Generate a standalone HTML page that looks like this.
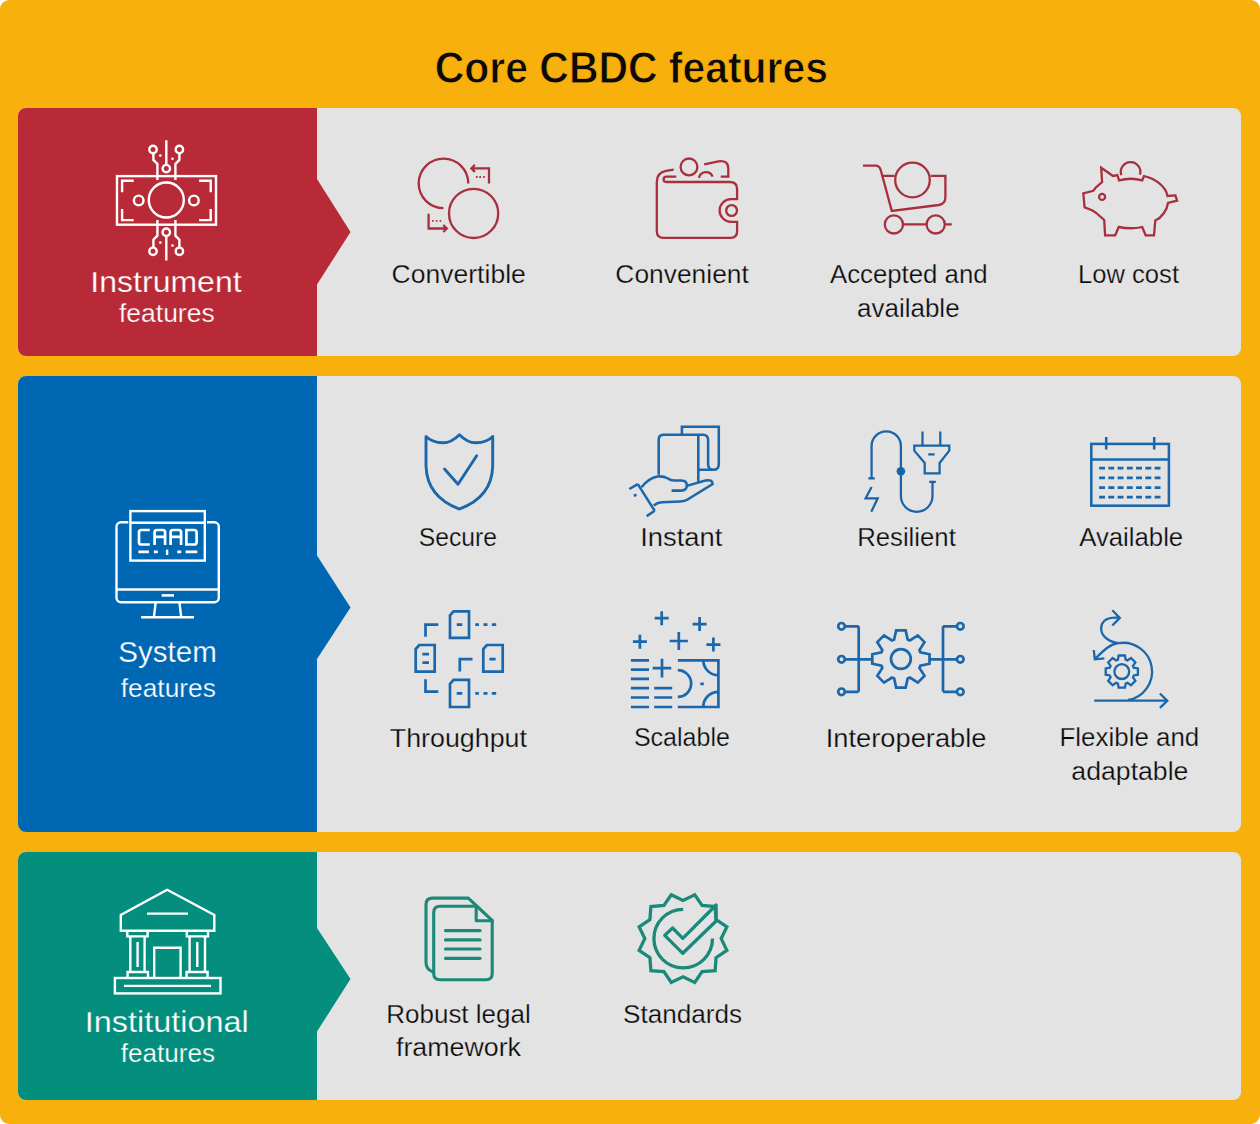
<!DOCTYPE html><html><head><meta charset="utf-8"><style>html,body{margin:0;padding:0;background:#fff;width:1260px;height:1124px;overflow:hidden}svg{display:block;font-family:"Liberation Sans",sans-serif}</style></head><body><svg width="1260" height="1124" viewBox="0 0 1260 1124"><rect x="0" y="0" width="1260" height="1124" rx="9" fill="#F8B00D"/><rect x="18" y="108" width="1223" height="248" rx="8" fill="#E3E3E3"/><path d="M26,108 H317 V179 L350.5,232 L317,284.5 V356 H26 A8,8 0 0 1 18,348 V116 A8,8 0 0 1 26,108 Z" fill="#B82A37"/><rect x="18" y="376" width="1223" height="456" rx="8" fill="#E3E3E3"/><path d="M26,376 H317 V555.5 L350.5,607.5 L317,659 V832 H26 A8,8 0 0 1 18,824 V384 A8,8 0 0 1 26,376 Z" fill="#0067B2"/><rect x="18" y="852" width="1223" height="248" rx="8" fill="#E3E3E3"/><path d="M26,852 H317 V928 L350.5,979 L317,1031.5 V1100 H26 A8,8 0 0 1 18,1092 V860 A8,8 0 0 1 26,852 Z" fill="#038E7D"/><text x="631.40" y="82.6" font-size="44.3" fill="#0a0a0a" stroke="#F8B00D" stroke-width="0.9" text-anchor="middle" font-weight="bold" textLength="393.23" lengthAdjust="spacingAndGlyphs">Core CBDC features</text><text x="166.00" y="292.2" font-size="29.3" fill="#fff" stroke="#B82A37" stroke-width="0.25" text-anchor="middle" font-weight="normal" textLength="151.27" lengthAdjust="spacingAndGlyphs">Instrument</text><text x="166.80" y="322.3" font-size="25.2" fill="#fff" stroke="#B82A37" stroke-width="0.25" text-anchor="middle" font-weight="normal" textLength="95.63" lengthAdjust="spacingAndGlyphs">features</text><text x="167.60" y="662.4" font-size="29.3" fill="#fff" stroke="#0067B2" stroke-width="0.25" text-anchor="middle" font-weight="normal" textLength="98.56" lengthAdjust="spacingAndGlyphs">System</text><text x="168.30" y="696.6" font-size="25.2" fill="#fff" stroke="#0067B2" stroke-width="0.25" text-anchor="middle" font-weight="normal" textLength="95.04" lengthAdjust="spacingAndGlyphs">features</text><text x="166.70" y="1031.7" font-size="29.3" fill="#fff" stroke="#038E7D" stroke-width="0.25" text-anchor="middle" font-weight="normal" textLength="163.96" lengthAdjust="spacingAndGlyphs">Institutional</text><text x="167.90" y="1061.6" font-size="25.2" fill="#fff" stroke="#038E7D" stroke-width="0.25" text-anchor="middle" font-weight="normal" textLength="94.22" lengthAdjust="spacingAndGlyphs">features</text><text x="458.70" y="283.4" font-size="25.5" fill="#0a0a0a" stroke="#E3E3E3" stroke-width="0.25" text-anchor="middle" font-weight="normal" textLength="134.25" lengthAdjust="spacingAndGlyphs">Convertible</text><text x="682.10" y="283.2" font-size="25.5" fill="#0a0a0a" stroke="#E3E3E3" stroke-width="0.25" text-anchor="middle" font-weight="normal" textLength="133.43" lengthAdjust="spacingAndGlyphs">Convenient</text><text x="908.80" y="283.2" font-size="25.5" fill="#0a0a0a" stroke="#E3E3E3" stroke-width="0.25" text-anchor="middle" font-weight="normal" textLength="157.62" lengthAdjust="spacingAndGlyphs">Accepted and</text><text x="908.30" y="316.7" font-size="25.5" fill="#0a0a0a" stroke="#E3E3E3" stroke-width="0.25" text-anchor="middle" font-weight="normal" textLength="102.64" lengthAdjust="spacingAndGlyphs">available</text><text x="1128.50" y="283.2" font-size="25.5" fill="#0a0a0a" stroke="#E3E3E3" stroke-width="0.25" text-anchor="middle" font-weight="normal" textLength="101.04" lengthAdjust="spacingAndGlyphs">Low cost</text><text x="457.90" y="545.6" font-size="25.5" fill="#0a0a0a" stroke="#E3E3E3" stroke-width="0.25" text-anchor="middle" font-weight="normal" textLength="78.30" lengthAdjust="spacingAndGlyphs">Secure</text><text x="681.30" y="545.6" font-size="25.5" fill="#0a0a0a" stroke="#E3E3E3" stroke-width="0.25" text-anchor="middle" font-weight="normal" textLength="82.29" lengthAdjust="spacingAndGlyphs">Instant</text><text x="906.50" y="545.8" font-size="25.5" fill="#0a0a0a" stroke="#E3E3E3" stroke-width="0.25" text-anchor="middle" font-weight="normal" textLength="98.67" lengthAdjust="spacingAndGlyphs">Resilient</text><text x="1131.20" y="545.8" font-size="25.5" fill="#0a0a0a" stroke="#E3E3E3" stroke-width="0.25" text-anchor="middle" font-weight="normal" textLength="104.03" lengthAdjust="spacingAndGlyphs">Available</text><text x="458.40" y="746.6" font-size="25.5" fill="#0a0a0a" stroke="#E3E3E3" stroke-width="0.25" text-anchor="middle" font-weight="normal" textLength="137.21" lengthAdjust="spacingAndGlyphs">Throughput</text><text x="681.90" y="746.3" font-size="25.5" fill="#0a0a0a" stroke="#E3E3E3" stroke-width="0.25" text-anchor="middle" font-weight="normal" textLength="95.89" lengthAdjust="spacingAndGlyphs">Scalable</text><text x="906.10" y="746.6" font-size="25.5" fill="#0a0a0a" stroke="#E3E3E3" stroke-width="0.25" text-anchor="middle" font-weight="normal" textLength="160.70" lengthAdjust="spacingAndGlyphs">Interoperable</text><text x="1129.40" y="746.1" font-size="25.5" fill="#0a0a0a" stroke="#E3E3E3" stroke-width="0.25" text-anchor="middle" font-weight="normal" textLength="139.71" lengthAdjust="spacingAndGlyphs">Flexible and</text><text x="1129.90" y="779.8" font-size="25.5" fill="#0a0a0a" stroke="#E3E3E3" stroke-width="0.25" text-anchor="middle" font-weight="normal" textLength="117.07" lengthAdjust="spacingAndGlyphs">adaptable</text><text x="458.50" y="1022.8" font-size="25.5" fill="#0a0a0a" stroke="#E3E3E3" stroke-width="0.25" text-anchor="middle" font-weight="normal" textLength="144.33" lengthAdjust="spacingAndGlyphs">Robust legal</text><text x="458.50" y="1055.8" font-size="25.5" fill="#0a0a0a" stroke="#E3E3E3" stroke-width="0.25" text-anchor="middle" font-weight="normal" textLength="125.00" lengthAdjust="spacingAndGlyphs">framework</text><text x="682.50" y="1022.8" font-size="25.5" fill="#0a0a0a" stroke="#E3E3E3" stroke-width="0.25" text-anchor="middle" font-weight="normal" textLength="119.06" lengthAdjust="spacingAndGlyphs">Standards</text><g fill="none" stroke="#fff" stroke-width="2.4" stroke-linecap="butt" stroke-linejoin="miter">
<rect x="117" y="176.1" width="99" height="48.6"/>
<path d="M133.7,180.7 H122.1 V192.3 M199.1,180.7 H210.7 V192.3 M122.1,209 V220.1 H133.7 M210.7,209 V220.1 H199.1"/>
<circle cx="166.3" cy="200" r="17.5"/>
<circle cx="138.7" cy="200.4" r="4.8"/><circle cx="193.9" cy="200.4" r="4.8"/>
<path d="M166.3,140.2 V164.8 M157.4,180.1 V164 L153.4,159.9 V153.3 M175.4,180.1 V164 L179.4,159.9 V153.3"/>
<circle cx="166.3" cy="168.6" r="3.7"/><circle cx="153" cy="149.5" r="3.7"/><circle cx="179.4" cy="149.5" r="3.7"/>
<path d="M166.3,236.3 V260.5 M157.4,220.1 V235.7 L153.4,239.7 V247.6 M175.4,220.1 V235.7 L179.4,239.7 V247.6"/>
<circle cx="166.3" cy="232.2" r="3.7"/><circle cx="153" cy="251.3" r="3.7"/><circle cx="179.4" cy="251.3" r="3.7"/>
<circle cx="160.3" cy="155.6" r="1.3" fill="#fff" stroke="none"/><circle cx="172.5" cy="158.7" r="1.3" fill="#fff" stroke="none"/>
<circle cx="160.3" cy="242.6" r="1.3" fill="#fff" stroke="none"/><circle cx="172.5" cy="245.5" r="1.3" fill="#fff" stroke="none"/>
</g><g fill="none" stroke="#fff" stroke-width="2.4" stroke-linecap="butt" stroke-linejoin="miter">
<path d="M128.3,522.2 H121 A4.5,4.5 0 0 0 116.5,526.7 V597.8 A4.5,4.5 0 0 0 121,602.3 H214.3 A4.5,4.5 0 0 0 218.8,597.8 V526.7 A4.5,4.5 0 0 0 214.3,522.2 H207"/>
<path d="M116.5,589.5 H218.8"/>
<path d="M161.7,595.4 H174" stroke-width="2.6"/>
<path d="M155.6,602.9 L153.9,617 M179.5,602.9 L181.2,617 M141.1,617.3 H194"/>
<rect x="130.4" y="511.1" width="74.4" height="49.5"/>
<path d="M130.4,522.8 H204.8"/>
<g stroke-width="2.7">
<path d="M149.8,530 H141.3 Q139,530 139,532.3 V542.2 Q139,544.5 141.3,544.5 H149.8"/>
<path d="M154.6,545 V532.3 Q154.6,530 156.9,530 H162.8 Q165.1,530 165.1,532.3 V545 M154.6,536.8 H165.1"/>
<path d="M170.6,545 V532.3 Q170.6,530 172.9,530 H178.8 Q181.1,530 181.1,532.3 V545 M170.6,536.8 H181.1"/>
<path d="M186.4,530 H194 Q196.6,530 196.6,532.6 V541.9 Q196.6,544.5 194,544.5 H186.4 Z"/>
</g>
<path d="M138.4,551.9 H148.9 M153.9,551.9 H157.8 M177.3,551.9 H181.2 M185.6,551.9 H197.3" stroke-width="2.8"/>
<path d="M167.1,549.6 V555" stroke-width="2.4"/>
</g><g fill="none" stroke="#fff" stroke-width="2.4" stroke-linecap="butt" stroke-linejoin="miter">
<path d="M167.2,889.8 L120.8,915 V930.7 H214.3 V915 Z"/>
<path d="M147,913.6 H188"/>
<path d="M127.3,930.7 V936.4 H147.6 V930.7 M186.8,930.7 V936.4 H208 V930.7"/>
<path d="M130.3,936.4 V972 M144.6,936.4 V972 M189.6,936.4 V972 M205,936.4 V972"/>
<path d="M137.6,942 V967 M197.3,942 V967"/>
<path d="M127.6,978 V972 H148 V978 M186.6,978 V972 H207.6 V978"/>
<path d="M154.2,978 V947.8 H180.6 V978"/>
<rect x="114.9" y="978" width="105.6" height="15.4"/>
<path d="M124,985.9 H211"/>
</g><g fill="none" stroke="#A82F3D" stroke-width="2.3" stroke-linecap="butt" stroke-linejoin="miter">
<path d="M468.3,183.4 A24.8,24.8 0 1 0 443.4,208.2"/>
<circle cx="473.6" cy="213.4" r="24.6"/>
<path d="M489,183.4 V168.4 H471.4 M474.9,164.9 L471.4,168.4 L474.9,171.9"/>
<path d="M428.6,213.8 V228.5 H446.8 M443.3,225 L446.8,228.5 L443.3,232"/>
<path d="M476,177 h1.6 M479.4,177 h1.6 M483.2,177 h1.6 M432,220.8 h1.6 M435.8,220.8 h1.6 M439.6,220.8 h1.6" stroke-width="1.8"/>
</g><g fill="none" stroke="#A82F3D" stroke-width="2.3" stroke-linecap="butt" stroke-linejoin="miter">
<path d="M673.7,169.6 L666,170.8 Q656.8,172.5 656.8,182 V231 Q656.8,237.9 663.6,237.9 H730.4 Q737.1,237.9 737.1,231 V221.9 H731 A11.4,11.4 0 0 1 731,199.1 H737.1 V189 Q737.1,182 729.5,182 H666.3 A2.7,2.7 0 0 1 666.3,176.6 H676.3"/>
<circle cx="731.6" cy="210.5" r="5.4"/>
<circle cx="689" cy="166.9" r="8.4"/>
<path d="M699,177.9 A7.1,7.1 0 0 1 712.6,176.6"/>
<path d="M704.2,164.4 L718.5,161.3 Q728.3,159.8 728.3,168.6 V176.6 H720.7"/>
</g><g fill="none" stroke="#A82F3D" stroke-width="2.3" stroke-linecap="butt" stroke-linejoin="miter">
<path d="M863,165.6 H875.3 Q879.8,165.6 880.8,170.3 L891.8,210.9 L938.7,205 Q945.4,204 945.4,197 V175.8 H930.7 M894.7,175.8 H882.9"/>
<circle cx="912.5" cy="180" r="17.3"/>
<circle cx="893.9" cy="224.4" r="9.1"/><circle cx="935.7" cy="224.4" r="9.1"/>
<path d="M903,224.4 H926.6 M944.8,224.4 H951.8"/>
</g><g fill="none" stroke="#A82F3D" stroke-width="2.3" stroke-linecap="butt" stroke-linejoin="miter">
<path d="M1101.2,167.7 L1113,176 L1117.3,175.1 L1119.1,180.3 Q1130.9,177.2 1142.2,180.3 L1144,176 C1155,178.5 1165.5,186 1167.5,196 L1175.4,195.4 L1177.1,200.6 L1168,203 C1167,210 1162,217.5 1155.3,220.5 L1154,235.3 H1145.7 L1142.2,227 Q1130.9,229.5 1118.7,227 L1115.2,235.3 H1105.1 L1104.2,220 L1096.8,213.5 Q1094,210.8 1084.6,207.4 L1083.3,193.4 L1093.3,190.8 L1096,187.3 L1102.1,182.1 Z"/>
<circle cx="1102.1" cy="196.9" r="3"/>
<path d="M1121.3,175.1 A9.8,9.8 0 1 1 1140,174.6"/>
</g><g fill="none" stroke="#1A67AC" stroke-width="2.9" stroke-linecap="round" stroke-linejoin="round">
<path d="M459.4,434.7 Q451,443 442.9,442.8 Q432,442.5 426,436.5 V466 Q427,497 459.4,509 Q492,497 492.7,466 V436.5 Q487,442.5 476,442.8 Q467.8,443 459.4,434.7 Z"/>
<path d="M444.5,469 L458,484.2 L476.7,455.8"/></g><g fill="none" stroke="#1A67AC" stroke-width="2.55" stroke-linecap="butt" stroke-linejoin="miter">
<path d="M681.9,434.6 V426.7 H718.8 V464 Q718.8,469.8 713.4,469.8 Q708.1,469.8 708.1,464 V440 Q708.1,434.7 703,434.7 H663.5 Q658.7,434.7 658.7,439.5 V474.7"/>
<path d="M698.3,435.6 V482.3 M698.3,469.8 H713.4"/>
<path d="M641.4,487.2 Q649,478 657.4,476.5 Q663,475.8 668,478.5 Q670.5,480.5 674,480.5 H681.4 Q686.8,480.5 686.8,485.5 Q686.8,490.6 681,490.6 H671.6"/>
<path d="M686.8,485.9 L705.4,480.5 Q712.6,479 712.6,484.1 L687.6,499.5 Q685,501.4 680,501.4 L661.8,502.3 Q657,502.8 653.8,505.4"/>
<path d="M637.8,484.1 L654.7,510.8 M629.3,489 L637.8,484.1 M646.7,516.1 L654.7,510.8 M633.8,495.8 L636.5,494.8"/>
</g><g fill="none" stroke="#1A63A6" stroke-width="2.25" stroke-linecap="butt" stroke-linejoin="miter">
<path d="M871.6,478.3 V446 A14.65,14.65 0 0 1 900.9,446 V496 A15.8,15.8 0 0 0 932.5,496 V481.9"/>
<path d="M868.4,478.3 H874.8 M929.2,481.9 H935.8"/>
<path d="M871.6,486.9 L865.6,498.3 H877.7 L871.3,511.8"/>
<path d="M922.5,431.4 V445.6 M940.3,431.4 V445.6"/>
<path d="M914.3,445.6 H949.3 V450.6 L939.6,463 V473.3 H924.7 V463 L914.3,450.6 Z"/>
<path d="M928.2,454.4 H934.6"/>
</g><circle cx="900.9" cy="471.2" r="4.3" fill="#1A63A6"/><g fill="none" stroke="#1A67AC" stroke-width="2.55" stroke-linecap="butt" stroke-linejoin="miter"><rect x="1091.3" y="443.9" width="77.6" height="61.8"/><path d="M1091.3,459.4 H1168.9 M1106.2,437 V449.6 M1154.2,437 V449.6"/><path d="M1099.10,468.1 h5.9 M1108.35,468.1 h5.9 M1117.60,468.1 h5.9 M1126.85,468.1 h5.9 M1136.10,468.1 h5.9 M1145.35,468.1 h5.9 M1154.60,468.1 h5.9 M1099.10,477.9 h5.9 M1108.35,477.9 h5.9 M1117.60,477.9 h5.9 M1126.85,477.9 h5.9 M1136.10,477.9 h5.9 M1145.35,477.9 h5.9 M1154.60,477.9 h5.9 M1099.10,487.6 h5.9 M1108.35,487.6 h5.9 M1117.60,487.6 h5.9 M1126.85,487.6 h5.9 M1136.10,487.6 h5.9 M1145.35,487.6 h5.9 M1154.60,487.6 h5.9 M1099.10,497.1 h5.9 M1108.35,497.1 h5.9 M1117.60,497.1 h5.9 M1126.85,497.1 h5.9 M1136.10,497.1 h5.9 M1145.35,497.1 h5.9 M1154.60,497.1 h5.9 " stroke-width="2.8"/></g><g fill="none" stroke="#1A67AC" stroke-width="2.7" stroke-linecap="butt" stroke-linejoin="miter"><path d="M450,615.3 L453.6,611.3 H469 V637.9 H450 Z M415.7,649 L419.3,645 H434.7 V671.6 H415.7 Z M483.3,649 L486.90000000000003,645 H502.7 V671.6 H483.3 Z M450,683.8 L453.6,679.8 H469 V707 H450 Z "/></g><g fill="none" stroke="#1A67AC" stroke-width="2.7" stroke-linecap="butt" stroke-linejoin="miter"><path d="M456.7,624.6 H462.3 M422.4,654.2 H429 M422.4,662.6 H429 M489.4,659.2 H495.6 M456.7,693.3 H462.3
M475.3,624.6 h3.6 M483.5,624.6 h4 M491.8,624.6 h4.4 M475.3,693.3 h3.6 M483.5,693.3 h4 M491.8,693.3 h4.4
M425.5,636.8 V624.6 H438.3 M459.8,671.6 V659.2 H472.5 M425.5,679.3 V691.6 H438.3"/></g><g fill="none" stroke="#1A67AC" stroke-width="2.7" stroke-linecap="butt" stroke-linejoin="miter"><path d="M654.7,618.2 H668.7 M661.7,611.2 V625.2 M692.6,624.1 H706.6 M699.6,617.1 V631.1 M632.9,641.7 H646.9 M639.9,634.7 V648.7 M669.6999999999999,641 H687.9 M678.8,631.9 V650.1 M706.4,644.6 H720.4 M713.4,637.6 V651.6 M652.7,668.1 H671.3 M662,658.8000000000001 V677.4 M630.9,660.3 H649 M630.9,669.6 H649 M630.9,678.9 H649 M630.9,688.2 H649 M630.9,697.5 H649 M630.9,707 H649 M654.2,688.2 H672.2 M654.2,697.5 H672.2 M654.2,707 H672.2 M677.8,660.3 H718.4 V707 H677.8 M677.8,670.2 A13,13 0 0 1 677.8,696.9 M703.3,660.3 A15,15 0 0 0 718.4,675.2 M703.3,707 A15,15 0 0 1 718.4,691.8 M700.3,683.8 H703.8"/></g><g fill="none" stroke="#1A67AC" stroke-width="2.7" stroke-linecap="butt" stroke-linejoin="miter"><path d="M845,626.3 H858.7 M845,659.3 H858.7 M845,691.8 H858.7 M858.7,626.3 V691.8 M858.7,659.3 H872 M930,659.3 H943 M943,626.3 V691.8 M943,626.3 H956.8 M943,659.3 H956.8 M943,691.8 H956.8 "/><circle cx="841.5" cy="626.3" r="3.3"/><circle cx="841.5" cy="659.3" r="3.3"/><circle cx="841.5" cy="691.8" r="3.3"/><circle cx="960.3" cy="626.3" r="3.3"/><circle cx="960.3" cy="659.3" r="3.3"/><circle cx="960.3" cy="691.8" r="3.3"/><path d="M894.13,639.55 L896.16,630.39 L905.64,630.39 L907.67,639.55 L909.87,640.45 L917.78,635.42 L924.48,642.12 L919.45,650.03 L920.35,652.23 L929.51,654.26 L929.51,663.74 L920.35,665.77 L919.45,667.97 L924.48,675.88 L917.78,682.58 L909.87,677.55 L907.67,678.45 L905.64,687.61 L896.16,687.61 L894.13,678.45 L891.93,677.55 L884.02,682.58 L877.32,675.88 L882.35,667.97 L881.45,665.77 L872.29,663.74 L872.29,654.26 L881.45,652.23 L882.35,650.03 L877.32,642.12 L884.02,635.42 L891.93,640.45 Z"/><circle cx="900.9" cy="659" r="9.9"/></g><g fill="none" stroke="#1A67AC" stroke-width="2.3" stroke-linecap="butt" stroke-linejoin="miter"><path d="M1094.2,700.7 H1167.3 M1159.9,693.5 L1167.3,700.7 L1159.9,707.9 M1128,700 A28,28 0 1 0 1118.5,643.2 C1110,644 1104,650 1095.2,658.8 M1093.8,650 L1094.8,659.3 L1104.4,658.3 M1118.5,643.2 C1104,641 1099,632 1102,624 C1104.5,618 1111,617 1119.8,617.9 M1112.3,610.3 L1119.8,617.9 L1112.3,625.5"/><path d="M1117.91,659.62 L1118.67,655.50 L1124.93,655.50 L1125.69,659.62 L1127.52,660.37 L1130.97,658.00 L1135.40,662.43 L1133.03,665.88 L1133.78,667.71 L1137.90,668.47 L1137.90,674.73 L1133.78,675.49 L1133.03,677.32 L1135.40,680.77 L1130.97,685.20 L1127.52,682.83 L1125.69,683.58 L1124.93,687.70 L1118.67,687.70 L1117.91,683.58 L1116.08,682.83 L1112.63,685.20 L1108.20,680.77 L1110.57,677.32 L1109.82,675.49 L1105.70,674.73 L1105.70,668.47 L1109.82,667.71 L1110.57,665.88 L1108.20,662.43 L1112.63,658.00 L1116.08,660.37 Z"/><circle cx="1121.8" cy="671.6" r="7.4"/></g><g fill="none" stroke="#1A897A" stroke-width="3.1" stroke-linejoin="round" stroke-linecap="round">
<path d="M432.3,971.6 Q426,969.5 426,962 V904.5 Q426,898.1 432.4,898.1 H468.3 L492.2,920.5"/>
<path d="M474.8,906.3 H440 Q433.7,906.3 433.7,912.6 V973.4 Q433.7,979.7 440,979.7 H485.9 Q492.2,979.7 492.2,973.4 V920.5"/>
<path d="M476.2,907.5 V920.8 H492.2"/>
<path d="M445.5,930.6 H480 M445.5,939.9 H480 M445.5,949 H480 M445.5,958.3 H480" stroke-width="3.2"/>
</g><g fill="none" stroke="#1A897A" stroke-width="3.3" stroke-linecap="butt" stroke-linejoin="miter">
<path d="M671.25,894.75 L683.00,900.40 L694.75,894.75 L702.10,905.52 L715.10,906.50 L716.08,919.50 L726.85,926.85 L721.20,938.60 L726.85,950.35 L716.08,957.70 L715.10,970.70 L702.10,971.68 L694.75,982.45 L683.00,976.80 L671.25,982.45 L663.90,971.68 L650.90,970.70 L649.92,957.70 L639.15,950.35 L644.80,938.60 L639.15,926.85 L649.92,919.50 L650.90,906.50 L663.90,905.52 Z"/>
<path d="M683.2,909.3 A29.3,29.3 0 1 0 712.5,938.6"/>
<path d="M664.7,935.4 L672.6,928 L682.8,938.3 L716.1,905 V921 L682.8,953.3 Z" stroke-linejoin="round"/>
</g></svg></body></html>
